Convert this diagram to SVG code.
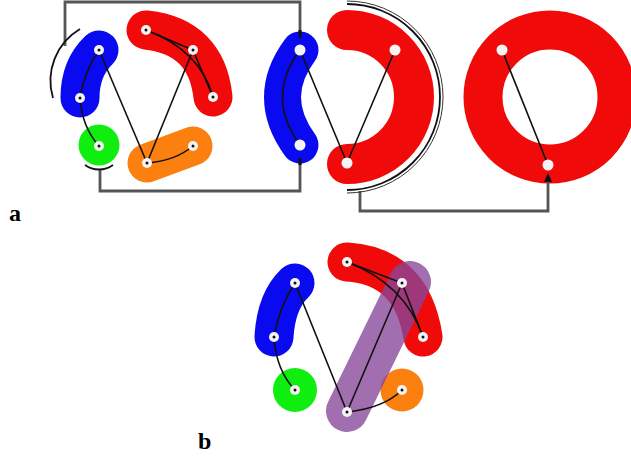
<svg xmlns="http://www.w3.org/2000/svg" width="631" height="459" viewBox="0 0 631 459">
<style>
.hull{fill:none;stroke-linecap:round;stroke-linejoin:round}
.blue{stroke:#0a0af0}
.red{stroke:#f00a0a}
.green{fill:#10ee10}
.orange{stroke:#fb8010}
.oc{fill:#fb8010}
.edge{fill:none;stroke:#111;stroke-width:1.6}
.frame{fill:none;stroke:#555;stroke-width:2.8}
.arc{fill:none;stroke:#111;stroke-width:1.8}
.nd{fill:#f4f4f4}
.lbl{fill:#111}
.cap{font-family:"Liberation Serif",serif;font-weight:bold;font-size:24px;fill:#000}
</style>
<defs>
<g id="node"><circle r="5" class="nd"/><circle r="1.5" class="lbl"/></g>
</defs>

<!-- panel a, left cluster -->
<g id="a-blue"><path class="hull blue" stroke-width="39" d="M99,50 Q80,68 80,98"/></g>
<g id="a-red"><path class="hull red" stroke-width="39" d="M146,30 Q206.5,36.5 213,97"/></g>
<g id="a-green"><circle class="green" cx="99" cy="145" r="20.5"/></g>
<g id="a-orange"><path class="hull orange" stroke-width="39" d="M147,163 L193,146"/></g>

<!-- panel a, middle and right -->
<g id="a-blue2"><path class="hull blue" stroke-width="37" d="M300,50 Q265,97 300,145"/></g>
<g id="a-red2"><path class="hull red" stroke-width="40" d="M347,30 A67,67 0 0 1 347,164"/></g>
<g id="a-ring"><circle cx="550" cy="97" r="67" fill="none" stroke="#f00a0a" stroke-width="39"/></g>

<!-- panel b -->
<g id="b-blue"><path class="hull blue" stroke-width="39" d="M295,283 Q276,301 274,337"/></g>
<g id="b-red"><path class="hull red" stroke-width="39" d="M347,262 Q412,266 423,337"/></g>
<g id="b-green"><circle class="green" cx="295" cy="390" r="22"/></g>
<g id="b-orange"><circle class="oc" cx="402" cy="390" r="21.5"/></g>
<g id="b-purple"><path class="hull" stroke="#86459a" stroke-opacity="0.78" stroke-width="42" d="M347,411 L410,282"/></g>

<g id="connectors">
  <!-- frames -->
  <path class="frame" d="M65,46 L65,2 L300,2 L300,32"/>
  <path class="frame" d="M300,163 L300,191 L100,191 L100,170"/>
  <path class="frame" d="M360,191 L360,211 L548,211 L548,180"/>
  <path d="M300,30 L300,38 M300,158 L300,165" stroke="#111" stroke-width="3"/>
  <path d="M544,182 L552,182 L548,173 Z" fill="#111"/>
  <!-- black arcs -->
  <path class="arc" d="M80,29 A60,60 0 0 0 53,98"/>
  <path class="arc" d="M85,165 A24,24 0 0 0 113,165"/>
  <path class="arc" d="M347,4 A93,93 0 0 1 347,190"/>
  <path fill="none" stroke="#333" stroke-width="1" d="M347,1 A96,96 0 0 1 347,193"/>
  <!-- panel a edges -->
  <path class="edge" d="M99,50 Q84,72 80,98"/>
  <path class="edge" d="M80,98 Q82,127 99,146"/>
  <path class="edge" d="M99,50 L147,163"/>
  <path class="edge" d="M193,50 L147,163"/>
  <path class="edge" d="M147,163 Q175,161 193,146"/>
  <path class="edge" d="M146,30 L193,50 L213,97"/>
  <path class="edge" d="M146,30 Q200,50 213,97"/>
  <path class="edge" d="M300,50 Q265,97 300,145"/>
  <path class="edge" d="M300,50 L347,163 L395,50"/>
  <path class="edge" d="M502,50 L548,165"/>
  <!-- panel b edges -->
  <path class="edge" d="M295,283 Q279,307 274,337"/>
  <path class="edge" d="M274,337 Q276,370 295,390"/>
  <path class="edge" d="M295,283 L347,412 L402,283"/>
  <path class="edge" d="M347,412 Q384,408 402,390"/>
  <path class="edge" d="M347,262 L402,283 L423,337"/>
  <path class="edge" d="M347,262 Q405,284 423,337"/>
</g>

<g id="nodes">
  <use href="#node" x="99" y="50"/>
  <use href="#node" x="80" y="98"/>
  <use href="#node" x="99" y="146"/>
  <use href="#node" x="146" y="30"/>
  <use href="#node" x="193" y="50"/>
  <use href="#node" x="213" y="97"/>
  <use href="#node" x="147" y="163"/>
  <use href="#node" x="193" y="146"/>
  <circle class="nd" cx="300" cy="50" r="5.5"/>
  <circle class="nd" cx="300" cy="145" r="5.5"/>
  <circle class="nd" cx="395" cy="50" r="5.5"/>
  <circle class="nd" cx="347" cy="163" r="5.5"/>
  <circle class="nd" cx="502" cy="50" r="5.5"/>
  <circle class="nd" cx="548" cy="165" r="5.5"/>
  <use href="#node" x="295" y="283"/>
  <use href="#node" x="274" y="337"/>
  <use href="#node" x="295" y="390"/>
  <use href="#node" x="347" y="262"/>
  <use href="#node" x="402" y="283"/>
  <use href="#node" x="423" y="337"/>
  <use href="#node" x="347" y="412"/>
  <use href="#node" x="402" y="390"/>
</g>

<text class="cap" x="9" y="221">a</text>
<text class="cap" x="198" y="449">b</text>
</svg>
